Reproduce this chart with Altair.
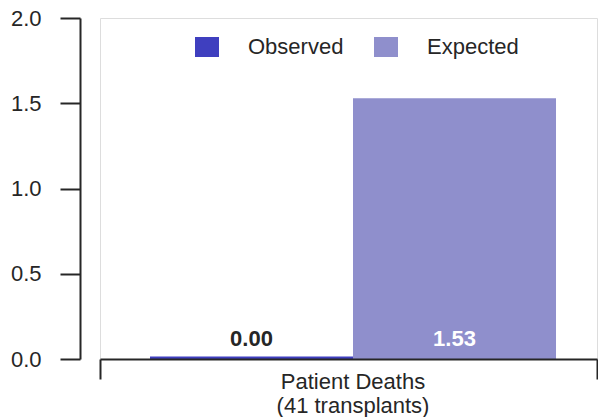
import altair as alt
import pandas as pd

categories = ["Patient Deaths\n(41 transplants)"]
series = ["Observed", "Expected"]
observed = [0.00]
expected = [1.53]
colors = ["#3f3fbf", "#8f8fcc"]
y_ticks = [0.0, 0.5, 1.0, 1.5, 2.0]

rows = []
for i, c in enumerate(categories):
    rows.append({"Category": c, "Series": "Observed", "Value": observed[i]})
    rows.append({"Category": c, "Series": "Expected", "Value": expected[i]})
df = pd.DataFrame(rows)

FONT = "Liberation Sans"
TXT = "#262626"

x_axis = alt.Axis(
    title=None,
    grid=False,
    labelAngle=0,
    labelFontSize=22,
    labelColor=TXT,
    labelFont=FONT,
    labelPadding=-8,
    labelOffset=4,
    labelLineHeight=24,
    labelExpr="split(datum.label, '\\n')",
    tickBand="extent",
    tickSize=20,
    tickWidth=2,
    tickColor=TXT,
    domainWidth=2,
    domainColor=TXT,
    zindex=1,
)
y_axis = alt.Axis(
    title=None,
    values=y_ticks,
    format=".1f",
    offset=20,
    tickSize=20,
    tickWidth=2,
    tickColor=TXT,
    domainWidth=2,
    domainColor=TXT,
    labelFontSize=22,
    labelColor=TXT,
    labelFont=FONT,
    labelPadding=19,
    grid=False,
    zindex=1,
)
y_scale = alt.Scale(domain=[0, 2], nice=False)

x_enc = alt.X("Category:N", scale=alt.Scale(paddingInner=0, paddingOuter=0), axis=x_axis)
xo_enc = alt.XOffset(
    "Series:N",
    sort=series,
    scale=alt.Scale(paddingInner=0, paddingOuter=0.2241, align=0.5495),
)

base = alt.Chart(df).encode(x=x_enc, xOffset=xo_enc)

color_enc = alt.Color(
    "Series:N",
    sort=series,
    scale=alt.Scale(domain=series, range=colors),
    legend=alt.Legend(
        title=None,
        orient="none",
        direction="horizontal",
        legendX=95,
        legendY=17,
        padding=0,
        symbolType="M-1,-0.833H1V0.833H-1Z",
        symbolSize=576,
        symbolStrokeWidth=0,
        symbolOpacity=1,
        labelFontSize=22,
        labelFont=FONT,
        labelColor=TXT,
        labelOffset=29,
        columnPadding=30,
        labelLimit=300,
    ),
)

bars = base.mark_bar().encode(
    y=alt.Y("Value:Q", scale=y_scale, axis=y_axis),
    color=color_enc,
)

floor = base.mark_bar(yOffset=-2.5).encode(
    y=alt.Y(datum=0, type="quantitative", scale=y_scale, axis=y_axis),
    y2=alt.Y2(datum=0),
    color=color_enc,
)

labels = base.mark_text(
    dy=-12.8, fontSize=22, fontWeight="bold", baseline="alphabetic", font=FONT
).encode(
    y=alt.Y(datum=0, type="quantitative", scale=y_scale, axis=y_axis),
    text=alt.Text("Value:Q", format=".2f"),
    color=alt.condition(
        alt.datum.Series == "Expected", alt.value("white"), alt.value(TXT)
    ),
)

chart = (
    alt.layer(bars, floor, labels)
    .properties(
        width=497,
        height=341,
        padding={"left": 92, "top": 10, "right": 1, "bottom": 58},
        autosize=alt.AutoSizeParams(type="none"),
    )
    .configure_view(stroke="transparent", strokeWidth=0)
    .configure_axis(grid=False)
    .configure(font=FONT)
)

chart.save("out.html", embed_options={"renderer": "svg", "actions": False})
